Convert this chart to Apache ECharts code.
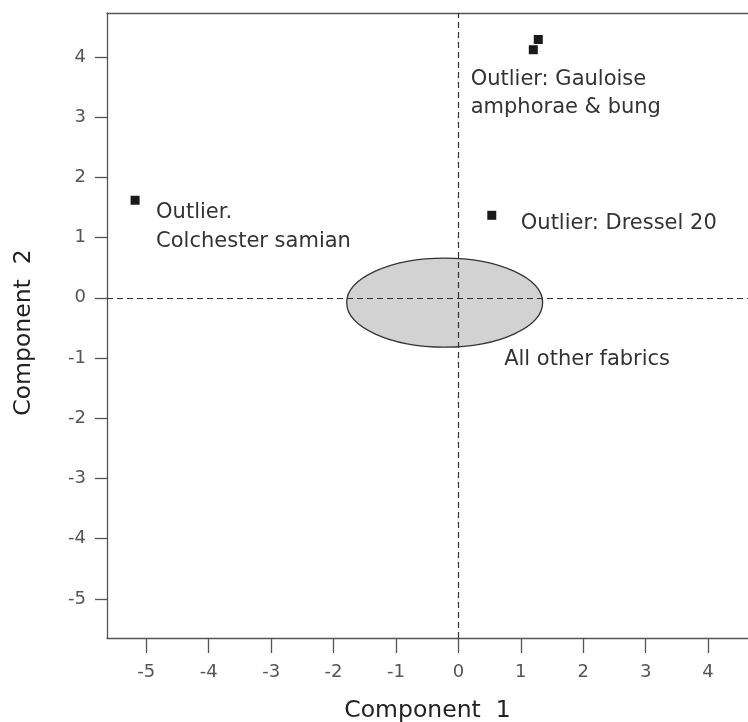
<!DOCTYPE html>
<html>
<head>
<meta charset="utf-8">
<script src="https://cdn.jsdelivr.net/npm/echarts@6/dist/echarts.min.js"></script>
<style>
html,body{margin:0;padding:0;background:#fff;}
#chart{width:748px;height:722px;}
</style>
</head>
<body>
<div id="chart"></div>
<script>
// ---- data ----
const xTicks = [-5, -4, -3, -2, -1, 0, 1, 2, 3, 4];
const yTicks = [-5, -4, -3, -2, -1, 0, 1, 2, 3, 4];
const pointComp1 = [-5.18, 1.20, 1.28, 0.535];
const pointComp2 = [1.62, 4.12, 4.29, 1.37];
const pointLabels = ['Outlier.\nColchester samian', 'Outlier: Gauloise\namphorae & bung', '', 'Outlier: Dressel 20'];
const ellipseCenter = [-0.22, -0.08];
const ellipseRadii = [1.57, 0.74];
const ellipseLabel = 'All other fabrics';
const xRange = [-5.63, 4.64];
const yRange = [-5.65, 4.73];
const xName = 'Component  1';
const yName = 'Component  2';

// ---- styles ----
const FONT = 'DejaVu Sans';
const labelOffsets = [[21, 26.5], [-62.6, 44], [0, 0], [29, 8.5]];
const labelLineHeights = [29, 28, 20, 20];

const chart = echarts.init(document.getElementById('chart'), null, {renderer: 'canvas'});

const scatterData = pointComp1.map((x, i) => ({
  value: [x, pointComp2[i]],
  label: {
    show: pointLabels[i] !== '',
    formatter: pointLabels[i],
    position: 'inside',
    align: 'left',
    verticalAlign: 'middle',
    offset: labelOffsets[i],
    lineHeight: labelLineHeights[i],
    fontFamily: FONT,
    fontSize: 21,
    color: '#333'
  }
}));

const axisCommon = {
  type: 'value',
  axisLine: {show: true, onZero: false, lineStyle: {color: '#555', width: 1.3}},
  splitLine: {show: false},
  axisLabel: {fontFamily: FONT, fontSize: 18, color: '#555'},
  nameTextStyle: {fontFamily: FONT, fontSize: 23.5, color: '#222'}
};

const option = {
  animation: false,
  backgroundColor: '#fff',
  grid: {left: 107, top: 13, right: 0, bottom: 84, containLabel: false, outerBoundsMode: 'none'},
  xAxis: [
    Object.assign({}, axisCommon, {
      min: xRange[0], max: xRange[1],
      position: 'bottom',
      name: xName, nameLocation: 'middle', nameGap: 61,
      axisTick: {show: true, length: 15, inside: false, customValues: xTicks, lineStyle: {color: '#555', width: 1.3}},
      axisLabel: Object.assign({}, axisCommon.axisLabel, {customValues: xTicks, margin: 25})
    }),
    {
      type: 'value', min: xRange[0], max: xRange[1], position: 'top',
      axisLine: {show: true, onZero: false, lineStyle: {color: '#555', width: 1.3}},
      axisTick: {show: false}, axisLabel: {show: false}, splitLine: {show: false}
    }
  ],
  yAxis: Object.assign({}, axisCommon, {
    min: yRange[0], max: yRange[1],
    name: yName, nameLocation: 'middle', nameGap: 71,
    nameTextStyle: Object.assign({}, axisCommon.nameTextStyle, {padding: [0, 14, 0, 0]}),
    axisTick: {show: true, length: 12, inside: false, customValues: yTicks, lineStyle: {color: '#555', width: 1.3}},
    axisLabel: Object.assign({}, axisCommon.axisLabel, {customValues: yTicks, margin: 21})
  }),
  series: [
    {
      type: 'custom',
      z: 1,
      data: [[ellipseCenter[0], ellipseCenter[1], ellipseRadii[0], ellipseRadii[1]]],
      renderItem: function (params, api) {
        const c = api.coord([api.value(0), api.value(1)]);
        const s = api.size([api.value(2), api.value(3)]);
        return {
          type: 'group',
          children: [
            {
              type: 'ellipse',
              shape: {cx: c[0], cy: c[1], rx: s[0], ry: s[1]},
              style: {fill: '#d2d2d2', stroke: '#333', lineWidth: 1.3}
            },
            {
              type: 'text',
              x: c[0] + 59.5, y: c[1] + 57,
              style: {text: ellipseLabel, fontFamily: FONT, fontSize: 21, fill: '#333', align: 'left', verticalAlign: 'middle'}
            }
          ]
        };
      }
    },
    {
      type: 'scatter',
      z: 3,
      symbol: 'rect',
      symbolSize: 9,
      itemStyle: {color: '#1a1a1a', opacity: 1},
      data: scatterData,
      markLine: {
        silent: true,
        symbol: 'none',
        label: {show: false},
        lineStyle: {color: '#333', type: [6, 4], width: 1.2},
        data: [{xAxis: 0}, {yAxis: 0}]
      }
    }
  ]
};
chart.setOption(option);
</script>
</body>
</html>
